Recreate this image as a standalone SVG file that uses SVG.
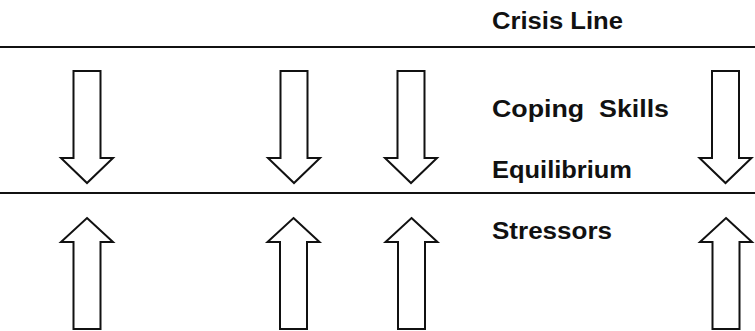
<svg xmlns="http://www.w3.org/2000/svg" xmlns:xlink="http://www.w3.org/1999/xlink" width="755" height="331" viewBox="0 0 755 331">
<style>
.bg{fill:#ffffff}
.rule{stroke:#111;stroke-width:2.2;fill:none}
.arrow{fill:#ffffff;stroke:#111;stroke-width:2;stroke-linejoin:miter}
.lbl{font-family:"Liberation Sans",Arial,sans-serif;font-weight:bold;font-size:23px;fill:#111}
</style>
<defs>
<path id="down" d="M-13.5,71 H13.5 V158 H26 L0,183 L-26,158 H-13.5 Z"/>
<path id="up" d="M0,218 L26,242 H13.5 V329 H-13.5 V242 H-26 Z"/>
</defs>
<rect class="bg" x="0" y="0" width="755" height="331"/>
<g id="crisis-line">
<line class="rule" x1="0" y1="47" x2="755" y2="47"/>
<text class="lbl" x="492" y="29" textLength="131" lengthAdjust="spacingAndGlyphs">Crisis Line</text>
</g>
<g id="equilibrium-line">
<line class="rule" x1="0" y1="193" x2="755" y2="193"/>
<text class="lbl" x="492" y="178" textLength="140" lengthAdjust="spacingAndGlyphs">Equilibrium</text>
</g>
<g id="coping-skills">
<text class="lbl" x="492" y="117" textLength="177" lengthAdjust="spacingAndGlyphs" xml:space="preserve">Coping  Skills</text>
</g>
<g id="stressors">
<text class="lbl" x="492" y="239" textLength="120" lengthAdjust="spacingAndGlyphs">Stressors</text>
</g>
<g id="connectors">
<g id="down-1"><use href="#down" xlink:href="#down" class="arrow" transform="translate(87,0)"/></g>
<g id="down-2"><use href="#down" xlink:href="#down" class="arrow" transform="translate(294,0)"/></g>
<g id="down-3"><use href="#down" xlink:href="#down" class="arrow" transform="translate(411,0)"/></g>
<g id="down-4"><use href="#down" xlink:href="#down" class="arrow" transform="translate(725.5,0)"/></g>
<g id="up-1"><use href="#up" xlink:href="#up" class="arrow" transform="translate(87,0)"/></g>
<g id="up-2"><use href="#up" xlink:href="#up" class="arrow" transform="translate(293.5,0)"/></g>
<g id="up-3"><use href="#up" xlink:href="#up" class="arrow" transform="translate(411.5,0)"/></g>
<g id="up-4"><use href="#up" xlink:href="#up" class="arrow" transform="translate(726,0)"/></g>
</g>
</svg>
